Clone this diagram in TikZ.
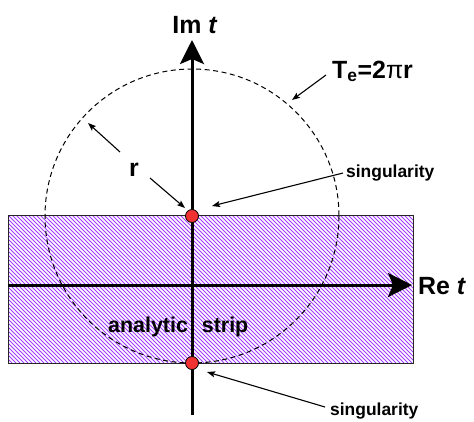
\documentclass[tikz,border=0pt]{standalone}
\usepackage{fontspec}
\setmainfont{Liberation Sans}
\usetikzlibrary{arrows.meta}
\definecolor{hatchpurple}{RGB}{160,60,255}
\definecolor{dotred}{RGB}{240,50,50}
\tikzset{
  hatchline/.style={draw=hatchpurple, line width=0.85bp},
  axisline/.style={line width=3bp, -{Stealth[length=24bp,width=24bp,inset=5bp]}},
  ptr/.style={line width=1.1bp, -{Stealth[length=8bp,width=6bp,inset=1.5bp]}},
  dotmark/.style={circle, draw=black, line width=0.8bp, fill=dotred, minimum size=13bp, inner sep=0pt},
  bigtext/.style={font=\fontsize{25}{30}\selectfont\bfseries, inner sep=0pt},
  smalltext/.style={font=\fontsize{17.5}{20}\selectfont\bfseries, inner sep=0pt},
  midtext/.style={font=\fontsize{21.5}{25}\selectfont\bfseries, inner sep=0pt},
}
\begin{document}
\begin{tikzpicture}[x=1bp,y=-1bp]
\useasboundingbox (0,0) rectangle (474,421);
% analytic strip with hatching
\begin{scope}
  \clip (8,215) rectangle (413,363);
  \fill[white] (8,215) rectangle (413,363);
  \foreach \i in {-160,-156,...,420} \draw[hatchline] (\i,215) -- (\i+148,363);
\end{scope}
\draw[line width=1bp, draw=black!85] (8,215) rectangle (413,363);
% label in the strip
\node[midtext, anchor=base west] (strip) at (108,332) {analytic\hspace{8bp} strip};
% circle
\draw[line width=1bp, dash pattern=on 5bp off 3.5bp] (192,216) circle[radius=147];
% axes
\coordinate (xs) at (8,285);
\coordinate (xe) at (412,285);
\coordinate (ys) at (192,415);
\coordinate (ye) at (192,40);
\draw[axisline] (xs) -- (xe);
\draw[axisline] (ys) -- (ye);
% singular points
\node[dotmark] (s1) at (192,216) {};
\node[dotmark] (s2) at (192,363) {};
% axis labels
\node[bigtext, anchor=base] (im) at (195,33) {Im \textit{t}};
\node[bigtext, anchor=base west] (re) at (418,294) {Re \textit{t}};
% period label
\node[bigtext, anchor=base west] (te) at (332,78) {T\textsubscript{e}=2\textmd{π}r};
\coordinate (teA) at (326,75);
\coordinate (teB) at (292,100);
\draw[ptr] (teA) -- (teB);
% radius label
\node[bigtext, anchor=base] (r) at (134,176) {r};
\coordinate (rA1) at (120,152);
\coordinate (rB1) at (88,123);
\coordinate (rA2) at (150,178);
\coordinate (rB2) at (185,208);
\draw[ptr] (rA1) -- (rB1);
\draw[ptr] (rA2) -- (rB2);
% singularity labels
\node[smalltext, anchor=base west] (sing1) at (346,177) {singularity};
\coordinate (sA1) at (343,173);
\coordinate (sB1) at (212,206);
\draw[ptr] (sA1) -- (sB1);
\node[smalltext, anchor=base west] (sing2) at (330,415) {singularity};
\coordinate (sA2) at (325,407);
\coordinate (sB2) at (207,372);
\draw[ptr] (sA2) -- (sB2);
\end{tikzpicture}
\end{document}
